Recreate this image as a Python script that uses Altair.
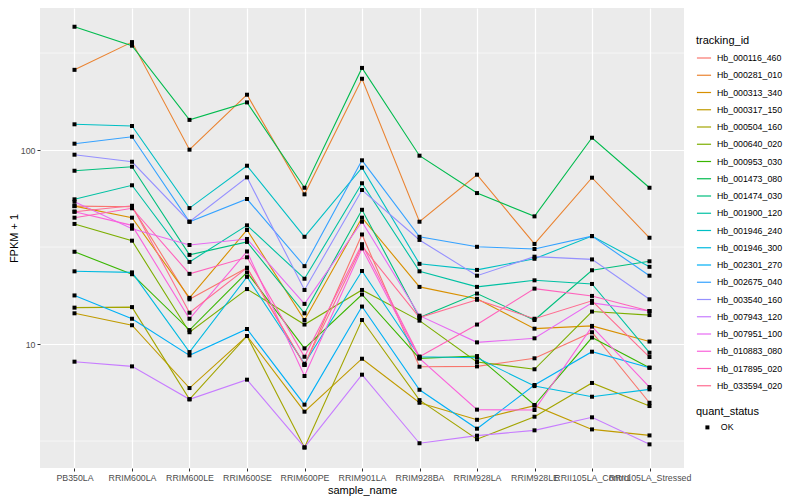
import altair as alt
import pandas as pd

samples = ["PB350LA", "RRIM600LA", "RRIM600LE", "RRIM600SE", "RRIM600PE", "RRIM901LA",
           "RRIM928BA", "RRIM928LA", "RRIM928LE", "RRII105LA_Control", "RRII105LA_Stressed"]

tracking_ids = ["Hb_000116_460", "Hb_000281_010", "Hb_000313_340", "Hb_000317_150", "Hb_000504_160",
                "Hb_000640_020", "Hb_000953_030", "Hb_001473_080", "Hb_001474_030", "Hb_001900_120",
                "Hb_001946_240", "Hb_001946_300", "Hb_002301_270", "Hb_002675_040", "Hb_003540_160",
                "Hb_007943_120", "Hb_007951_100", "Hb_010883_080", "Hb_017895_020", "Hb_033594_020"]

hue_colors = ["#F8766D", "#EA8331", "#D89000", "#C09B00", "#A3A500", "#7CAE00", "#39B600", "#00BB4E",
              "#00BF7D", "#00C1A3", "#00BFC4", "#00BAE0", "#00B0F6", "#35A2FF", "#9590FF", "#C77CFF",
              "#E76BF3", "#FA62DB", "#FF62BC", "#FF6C91"]

hb_000116_460 = [51.4, 51.0, 17.0, 24.7, 7.80, 36.7, 7.64, 7.67, 8.44, 11.5, 4.98]
hb_000281_010 = [259, 360, 100.4, 192.8, 59.1, 233, 42.7, 74.6, 32.8, 72.0, 35.3]
hb_000313_340 = [51.4, 44.8, 17.3, 38.7, 13.3, 44.8, 19.7, 17.1, 12.0, 12.4, 10.3]
hb_000317_150 = [14.4, 12.5, 5.93, 11.0, 4.48, 8.40, 4.98, 4.07, 4.81, 3.63, 3.38]
hb_000504_160 = [15.4, 15.5, 5.19, 11.0, 2.93, 13.3, 5.14, 3.23, 4.22, 6.30, 4.79]
hb_000640_020 = [41.6, 34.1, 11.5, 19.2, 12.6, 19.0, 13.2, 8.08, 7.41, 14.7, 14.1]
hb_000953_030 = [29.9, 22.9, 11.8, 23.4, 9.50, 18.0, 8.44, 8.67, 4.85, 10.8, 7.55]
hb_001473_080 = [432, 345, 143, 176, 63.9, 265, 93.5, 60.0, 45.5, 115.7, 63.9]
hb_001474_030 = [78.2, 82.0, 28.8, 33.6, 14.4, 49.2, 13.7, 18.2, 13.3, 24.0, 26.7]
hb_001900_120 = [55.7, 65.8, 26.5, 40.9, 21.7, 67.4, 23.7, 19.7, 21.3, 20.4, 9.02]
hb_001946_240 = [135.7, 133, 50.2, 83.0, 35.7, 81.1, 25.9, 24.1, 27.5, 36.0, 25.0]
hb_001946_300 = [23.7, 23.4, 9.09, 22.2, 7.91, 23.8, 8.60, 8.50, 6.07, 5.35, 5.84]
hb_002301_270 = [17.8, 13.5, 8.74, 11.95, 4.87, 15.6, 5.81, 3.66, 6.15, 9.13, 7.55]
hb_002675_040 = [107.8, 117.1, 42.7, 55.9, 25.2, 88.5, 35.7, 31.7, 30.9, 36.0, 22.5]
hb_003540_160 = [94.6, 87.0, 42.7, 72.3, 19.0, 62.2, 34.4, 22.5, 28.2, 27.3, 17.0]
hb_007943_120 = [8.11, 7.67, 5.19, 6.55, 2.93, 6.95, 3.08, 3.37, 3.59, 4.19, 3.04]
hb_007951_100 = [54.1, 39.3, 32.4, 34.8, 16.1, 42.7, 14.0, 10.2, 10.7, 16.3, 14.8]
hb_010883_080 = [48.1, 40.9, 13.5, 30.0, 6.84, 31.1, 8.44, 4.59, 4.57, 12.3, 6.00]
hb_017895_020 = [44.8, 50.1, 23.0, 28.0, 8.60, 32.7, 8.60, 12.6, 19.3, 17.7, 14.8]
hb_033594_020 = [48.1, 51.6, 14.5, 24.7, 7.80, 32.0, 13.7, 16.9, 13.5, 16.7, 8.57]

series = [hb_000116_460, hb_000281_010, hb_000313_340, hb_000317_150, hb_000504_160,
          hb_000640_020, hb_000953_030, hb_001473_080, hb_001474_030, hb_001900_120,
          hb_001946_240, hb_001946_300, hb_002301_270, hb_002675_040, hb_003540_160,
          hb_007943_120, hb_007951_100, hb_010883_080, hb_017895_020, hb_033594_020]

y_major = [10, 100]
y_minor = [3.162, 31.62, 316.2]

rows = []
for tid, vals in zip(tracking_ids, series):
    for s, v in zip(samples, vals):
        rows.append({"tracking_id": tid, "sample_name": s, "value": v, "quant_status": "OK"})
df = pd.DataFrame(rows)
minor_df = pd.DataFrame({"value": y_minor})

FONT = "Liberation Sans"

yscale = alt.Scale(type="log", domain=[2.296, 539.6], nice=False)
xenc = alt.X("sample_name:N", sort=samples,
             scale=alt.Scale(type="point", padding=0.6),
             axis=alt.Axis(title="sample_name", labelAngle=0, grid=True, gridColor="white",
                           gridWidth=1.2, tickSize=3, labelPadding=2, titlePadding=3))
yenc = alt.Y("value:Q", scale=yscale,
             axis=alt.Axis(title="FPKM + 1", values=y_major, format="d", grid=True,
                           gridColor="white", gridWidth=1.2, tickSize=3, labelPadding=2,
                           titlePadding=1))

minor = alt.Chart(minor_df).mark_rule(color="white", strokeWidth=0.6).encode(y=yenc)

lines = alt.Chart(df).mark_line(strokeWidth=1.1).encode(
    x=xenc, y=yenc,
    color=alt.Color("tracking_id:N",
                    scale=alt.Scale(domain=tracking_ids, range=hue_colors),
                    legend=alt.Legend(title="tracking_id", orient="none", legendX=656, legendY=27,
                                      symbolType="stroke", symbolSize=200, symbolStrokeWidth=1.2,
                                      labelFontSize=8.8, titleFontSize=11, rowPadding=4.25,
                                      titlePadding=4, labelOffset=5, padding=0)),
    detail="tracking_id:N",
)

points = alt.Chart(df).mark_point(shape="square", filled=True, size=16, color="black", opacity=1).encode(
    x=xenc, y=yenc,
    shape=alt.Shape("quant_status:N", scale=alt.Scale(range=["square"]),
                    legend=alt.Legend(title="quant_status", orient="none", legendX=656, legendY=398,
                                      symbolSize=16, symbolFillColor="black", symbolStrokeColor="black",
                                      labelFontSize=8.8, titleFontSize=11, titlePadding=6,
                                      symbolOffset=7, labelOffset=9, padding=0)),
)

chart = alt.layer(minor, lines, points).resolve_legend(color="independent", shape="independent").properties(
    width=644, height=460,
    background="white",
    autosize=alt.AutoSizeParams(type="none"),
    padding={"left": 32, "top": 0, "right": 108, "bottom": 32},
).configure_view(fill="#EBEBEB", stroke=None).configure_axis(
    domain=False, tickColor="#333333", labelColor="#4D4D4D", labelFont=FONT, titleFont=FONT,
    labelFontSize=8.8, titleFontSize=11, titleColor="black", titleFontWeight="normal",
).configure_legend(
    labelFont=FONT, titleFont=FONT, titleFontWeight="normal", titleColor="black", labelColor="black",
)

chart.save("out.html", embed_options={"renderer": "svg", "actions": False})
